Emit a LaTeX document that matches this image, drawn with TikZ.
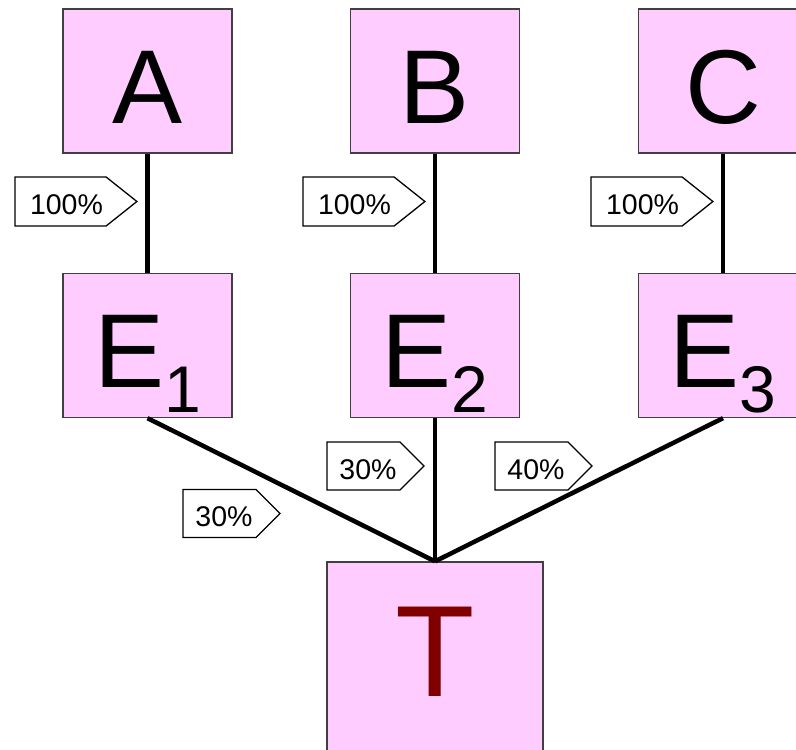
\documentclass[tikz,border=0pt]{standalone}
\usepackage{fontspec}
\setmainfont{Liberation Sans}
\usetikzlibrary{shapes.symbols}
\definecolor{boxpink}{HTML}{FFCCFF}
\definecolor{tred}{HTML}{800000}
\begin{document}
\begin{tikzpicture}[x=1pt,y=-1pt,
 box/.style={draw=black!75, line width=1.3pt, fill=boxpink, minimum width=169pt, minimum height=144pt, inner sep=0pt, font=\fontsize{105}{105}\selectfont, text height=84pt, text depth=0pt},
 link/.style={line width=4.5pt},
 tag/.style={signal, signal to=east, signal pointer angle=77, draw=black, line width=1.3pt, fill=white, minimum width=122pt, minimum height=49pt, inner sep=0pt, text height=26.4pt, text depth=0pt, font=\fontsize{28.5}{28.5}\selectfont},
 smalltag/.style={tag, signal pointer angle=90, minimum width=97pt, minimum height=48pt}]
\useasboundingbox (0,0) rectangle (796,750);
\node[box] (A) at (147.5,81) {A};
\node[box] (B) at (435,81) {B};
\node[box] (C) at (723,81) {C};
\node[box] (E1) at (147.5,345.5) {E\raisebox{-25pt}{\fontsize{66}{66}\selectfont 1}};
\node[box] (E2) at (435,345.5) {E\raisebox{-25pt}{\fontsize{66}{66}\selectfont 2}};
\node[box] (E3) at (723,345.5) {E\raisebox{-25pt}{\fontsize{66}{66}\selectfont 3}};
\node[box, minimum width=216pt, minimum height=208pt, font=\fontsize{130}{130}\selectfont, text=tred, text height=93pt, text depth=33pt] (T) at (435,666) {T};
\node[tag] (tA) at (60.5,201.5) {\hspace{12pt}100\%};
\node[tag] (tB) at (348.5,201.5) {\hspace{12pt}100\%};
\node[tag] (tC) at (636.5,201.5) {\hspace{12pt}100\%};
\node[smalltag] (t1) at (219.5,513.5) {\hspace{9pt}30\%};
\node[smalltag] (t2) at (363.5,466) {\hspace{9pt}30\%};
\node[smalltag] (t3) at (531.5,466) {\hspace{9pt}40\%};
\draw[link] (A.south) -- (E1.north);
\draw[link] (B.south) -- (E2.north);
\draw[link] (C.south) -- (E3.north);
\draw[link] (E1.south) -- (T.north);
\draw[link] (E2.south) -- (T.north);
\draw[link] (E3.south) -- (T.north);
\end{tikzpicture}
\end{document}
